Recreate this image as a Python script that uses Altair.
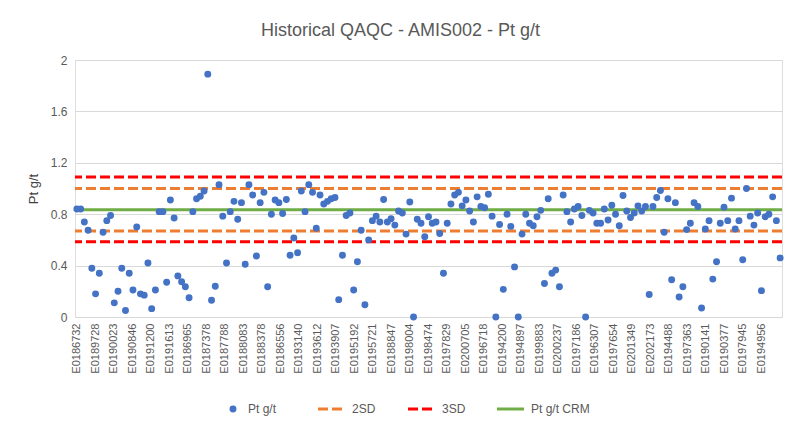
import pandas as pd
import altair as alt

# Pt g/t values, in sample order
pt = [0.84, 0.84, 0.74, 0.675, 0.38, 0.18, 0.34, 0.66, 0.75, 0.79,
      0.11, 0.20, 0.38, 0.05, 0.34, 0.21, 0.70, 0.18, 0.17, 0.42,
      0.065, 0.21, 0.82, 0.82, 0.27, 0.91, 0.77, 0.32, 0.275, 0.235,
      0.15, 0.82, 0.92, 0.94, 0.98, 1.89, 0.13, 0.24, 1.03, 0.785,
      0.42, 0.82, 0.90, 0.76, 0.89, 0.41, 1.03, 0.95, 0.475, 0.89,
      0.97, 0.235, 0.80, 0.91, 0.89, 0.805, 0.915, 0.48, 0.615, 0.50,
      0.98, 0.82, 1.03, 0.97, 0.69, 0.95,
      0.88, 0.90, 0.92, 0.93, 0.135, 0.48, 0.79, 0.81, 0.21, 0.43,
      0.675, 0.095, 0.60, 0.75, 0.785, 0.74, 0.915, 0.74, 0.765, 0.715,
      0.825, 0.81, 0.645, 0.895, 0.00, 0.76, 0.73, 0.625, 0.78, 0.73,
      0.74, 0.65, 0.34, 0.73, 0.88, 0.95, 0.97, 0.865, 0.91, 0.825,
      0.74, 0.935, 0.86, 0.85, 0.955, 0.785, 0.00, 0.72, 0.215, 0.80,
      0.705, 0.39, 0.00, 0.645, 0.80, 0.73, 0.71, 0.78, 0.83, 0.26,
      0.92, 0.34, 0.365, 0.235,
      0.95, 0.82, 0.74, 0.84, 0.86, 0.79, 0.00, 0.83, 0.81, 0.73,
      0.73, 0.84, 0.755, 0.87, 0.80, 0.71, 0.945, 0.825, 0.775, 0.81,
      0.865, 0.825, 0.86, 0.175, 0.86, 0.93, 0.985, 0.66, 0.92, 0.29,
      0.89, 0.155, 0.235, 0.68, 0.73, 0.89, 0.86, 0.07, 0.685, 0.75,
      0.295, 0.43, 0.73, 0.855, 0.75, 0.925, 0.685, 0.75, 0.445, 1.0,
      0.785, 0.715, 0.81, 0.205, 0.78, 0.80, 0.935, 0.75, 0.46]

tick_labels = ["E0186732", "E0189728", "E0190023", "E0190846", "E0191200", "E0191613",
               "E0186965", "E0187378", "E0187788", "E0188083", "E0188378", "E0186556",
               "E0193140", "E0193612", "E0193907", "E0195192", "E0195721", "E0188847",
               "E0198004", "E0198474", "E0197829", "E0200705", "E0196718", "E0194200",
               "E0194897", "E0199883", "E0200237", "E0197186", "E0196307", "E0197654",
               "E0201349", "E0202173", "E0194488", "E0197363", "E0190141", "E0190377",
               "E0197945", "E0194956"]

crm = 0.835
sd2 = [0.67, 1.0]
sd3 = [0.585, 1.09]

n = len(pt)
nl = len(tick_labels)
step = (n - 6) / (nl - 1)
tick_pos = [round(k * step, 2) for k in range(nl)]
label_js = "[" + ",".join("'%s'" % s for s in tick_labels) + "]"

df = pd.DataFrame({"i": range(n), "pt": pt})
lines = pd.DataFrame({
    "y": [sd2[0], sd2[1], sd3[0], sd3[1], crm],
    "kind": ["2SD", "2SD", "3SD", "3SD", "Pt g/t CRM"],
})

x_enc = alt.X("i:Q", scale=alt.Scale(domain=[-0.5, n - 0.5], nice=False, zero=False),
              axis=alt.Axis(values=tick_pos, grid=False, ticks=False, domain=False,
                            labelExpr=label_js + "[round(datum.value/%f)]" % step,
                            labelAngle=270, labelAlign="right", labelBaseline="middle",
                            labelFontSize=11, labelColor="#595959", labelPadding=6,
                            labelOverlap=False, title=None))
y_enc = alt.Y("pt:Q", scale=alt.Scale(domain=[0, 2]),
              axis=alt.Axis(values=[i / 5 for i in range(11)], format="~g",
                            title="Pt g/t", titleFontSize=13, titleFontWeight="normal",
                            titleColor="#404040", labelColor="#595959", labelFontSize=12,
                            labelOverlap=False, gridColor="#D9D9D9", domain=False,
                            ticks=False, labelPadding=8, titlePadding=10))

points = alt.Chart(df).mark_circle(size=48, opacity=1, color="#4472C4").encode(x=x_enc, y=y_enc)

colors = alt.Scale(domain=["2SD", "3SD", "Pt g/t CRM"], range=["#ED7D31", "#FF0000", "#70AD47"])
dash = alt.Scale(domain=["2SD", "3SD", "Pt g/t CRM"], range=[[10, 4], [10, 4], [1, 0]])
rules = alt.Chart(lines).mark_rule(strokeWidth=3).encode(
    y="y:Q",
    color=alt.Color("kind:N", scale=colors, legend=None),
    strokeDash=alt.StrokeDash("kind:N", scale=dash, legend=None),
)

# legend below the axis
leg = pd.DataFrame({
    "name": ["Pt g/t", "2SD", "3SD", "Pt g/t CRM"],
    "x0": [158, 243, 333, 422],
})
leg_dot = alt.Chart(leg.iloc[:1]).mark_circle(size=48, opacity=1, color="#4472C4").encode(
    x=alt.value(158), y=alt.value(349))
leg_lines = alt.Chart(leg.iloc[1:]).mark_rule(strokeWidth=3).encode(
    x=alt.X("x0:Q", scale=None), x2=alt.X2("x1:Q"), y=alt.value(349),
    color=alt.Color("name:N", scale=colors, legend=None),
    strokeDash=alt.StrokeDash("name:N", scale=dash, legend=None),
).transform_calculate(x1="datum.x0 + 27")
leg_text = alt.Chart(leg).mark_text(align="left", fontSize=12, color="#595959").encode(
    x=alt.X("tx:Q", scale=None), y=alt.value(349), text="name:N",
).transform_calculate(tx="datum.name == 'Pt g/t' ? datum.x0 + 15 : datum.x0 + 34")

chart = alt.layer(rules, points, leg_dot, leg_lines, leg_text).properties(
    width=707, height=257,
    autosize=alt.AutoSizeParams(type="none"),
    padding={"left": 67, "top": 52, "right": 10, "bottom": 105},
    title=alt.Title("Historical QAQC - AMIS002 - Pt g/t", fontSize=18, fontWeight="normal",
                    color="#595959", offset=14, dx=-28),
).configure_view(stroke=None).configure(font="Liberation Sans")

chart.save("out.html", embed_options={"renderer": "svg", "actions": False})
